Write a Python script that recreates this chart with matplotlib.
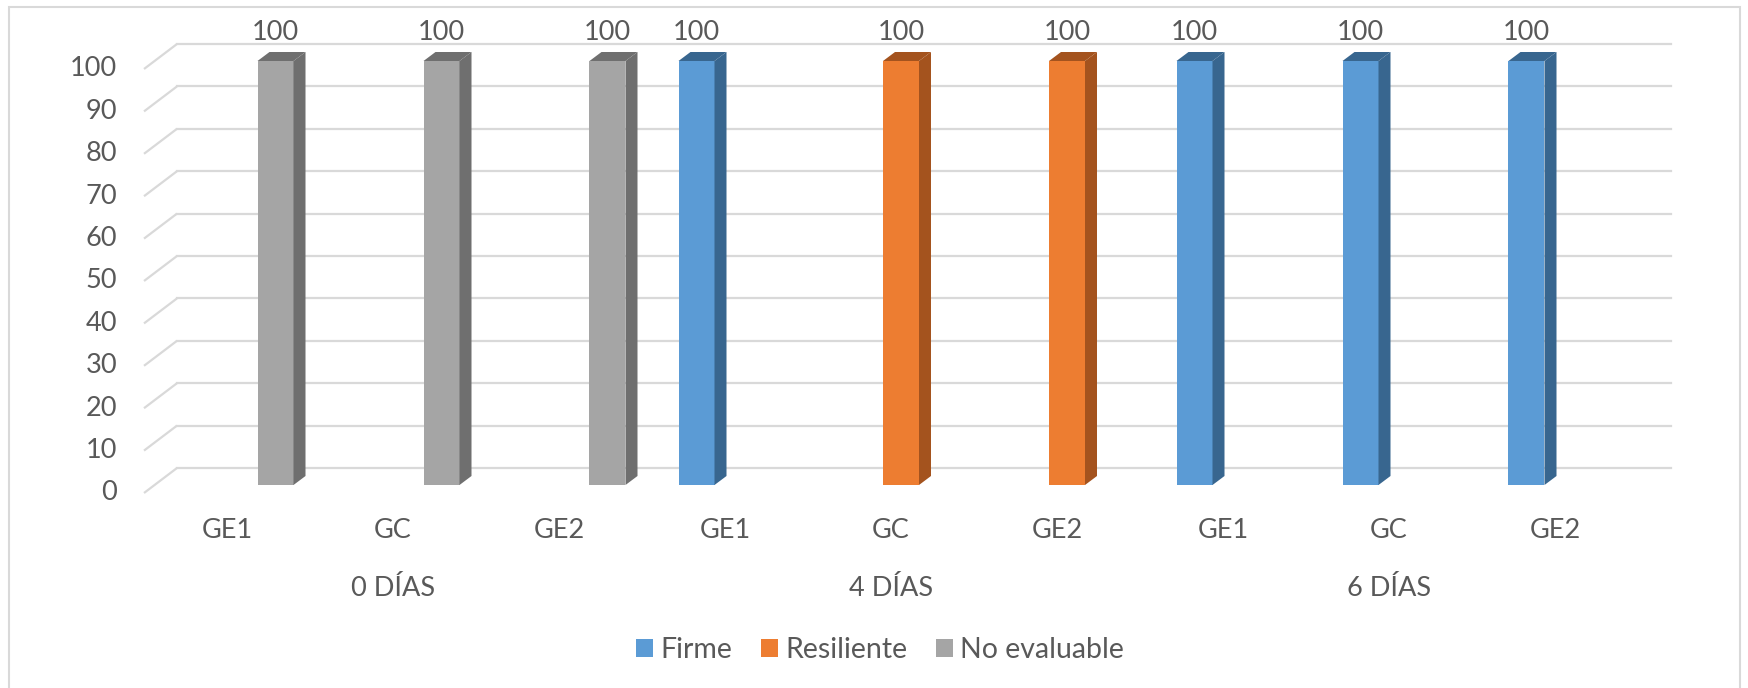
import numpy as np
import matplotlib.pyplot as plt
from matplotlib.patches import Polygon, Patch, Rectangle

plt.rcParams['font.family'] = ['Lato', 'DejaVu Sans']

groups = ["0 DÍAS", "4 DÍAS", "6 DÍAS"]
categories = ["GE1", "GC", "GE2"] * 3
series = ["Firme", "Resiliente", "No evaluable"]
firme = [0, 0, 0, 100, 0, 0, 100, 100, 100]
resiliente = [0, 0, 0, 0, 100, 100, 0, 0, 0]
no_evaluable = [100, 100, 100, 0, 0, 0, 0, 0, 0]
y_ticks = list(range(0, 101, 10))

front_colors = ["#5B9BD5", "#ED7D31", "#A5A5A5"]
side_colors = ["#38668F", "#A4531E", "#6F6F6F"]
text_color = "#595959"
grid_color = "#D9D9D9"
fs = 19.5

W, H = 1748, 688
fig = plt.figure(figsize=(W / 100, H / 100), dpi=100)
fig.patch.set_facecolor("white")

# front plane of the 3D box (where the axis labels sit)
left_px, right_px, zero_px, top_px = 144, 1638, 493, 69
ax = fig.add_axes([left_px / W, (H - zero_px) / H,
                   (right_px - left_px) / W, (zero_px - top_px) / H])
ax.set_xlim(-0.5, len(categories) - 0.5)
ax.set_ylim(0, 100)
ax.axis("off")

ppx = (right_px - left_px) / (len(categories))   # pixels per category
ppy = (zero_px - top_px) / 100.0                  # pixels per value unit


def d(dx, dy):
    """pixel offset -> data offset"""
    return dx / ppx, dy / ppy


wall_dx, wall_dy = d(33, 25)     # full depth of the floor
bar_ox, bar_oy = d(10, 8)        # bar front face behind the front plane
bar_dx, bar_dy = d(12, 9)        # depth of each bar
slot = 38.5 / ppx
bar_w = 36 / ppx
x0, x1 = -0.5, len(categories) - 0.5

# side-wall and back-wall gridlines
for v in y_ticks:
    ax.plot([x0, x0 + wall_dx], [v, v + wall_dy], color=grid_color, lw=1.6,
            zorder=1, clip_on=False, solid_capstyle="butt")
    ax.plot([x0 + wall_dx, x1 + wall_dx], [v + wall_dy, v + wall_dy],
            color=grid_color, lw=1.6, zorder=1, clip_on=False)
    ax.text(x0 - 27 / ppx, v, str(v), ha="right", va="center",
            fontsize=fs, color=text_color)

x = np.arange(len(categories))
for k, vals in enumerate([firme, resiliente, no_evaluable]):
    vals = np.array(vals, dtype=float)
    cx = x + (k - 1) * slot
    keep = vals > 0
    ax.bar(cx[keep] + bar_ox, vals[keep], bottom=bar_oy, width=bar_w,
           color=front_colors[k], zorder=3, clip_on=False, linewidth=0)
    for c, v in zip(cx[keep], vals[keep]):
        xl = c - bar_w / 2 + bar_ox
        xr = c + bar_w / 2 + bar_ox
        side = [(xr, bar_oy), (xr, v + bar_oy),
                (xr + bar_dx, v + bar_oy + bar_dy), (xr + bar_dx, bar_oy + bar_dy)]
        top = [(xl, v + bar_oy), (xr, v + bar_oy),
               (xr + bar_dx, v + bar_oy + bar_dy), (xl + bar_dx, v + bar_oy + bar_dy)]
        ax.add_patch(Polygon(side, closed=True, facecolor=side_colors[k],
                             edgecolor="none", zorder=3, clip_on=False))
        ax.add_patch(Polygon(top, closed=True, facecolor=side_colors[k],
                             edgecolor="none", zorder=3, clip_on=False))
        ax.text(c + bar_ox, v + bar_oy + 29 / ppy, f"{v:.0f}", ha="center",
                va="center", fontsize=fs, color=text_color)

# category and group labels
for i, name in enumerate(categories):
    ax.text(i, -38 / ppy, name, ha="center", va="center",
            fontsize=fs, color=text_color)
for g, name in enumerate(groups):
    ax.text(3 * g + 1, -96 / ppy, name, ha="center", va="center",
            fontsize=fs, color=text_color)

handles = [Patch(facecolor=front_colors[k], label=series[k]) for k in range(3)]
leg = fig.legend(handles=handles, loc="center", ncol=3, frameon=False,
                 bbox_to_anchor=(880 / W, 1 - 650 / H), fontsize=20.5,
                 handlelength=0.6, handleheight=0.6, handletextpad=0.25,
                 columnspacing=1.0)
for t in leg.get_texts():
    t.set_color(text_color)

# chart area border
fig.add_artist(Rectangle((9 / W, -0.05), (1740 - 9) / W, 1.05 - 7 / H,
                         transform=fig.transFigure, fill=False,
                         edgecolor="#D9D9D9", lw=1.5))

fig.savefig("out.png", dpi=100, facecolor="white")
